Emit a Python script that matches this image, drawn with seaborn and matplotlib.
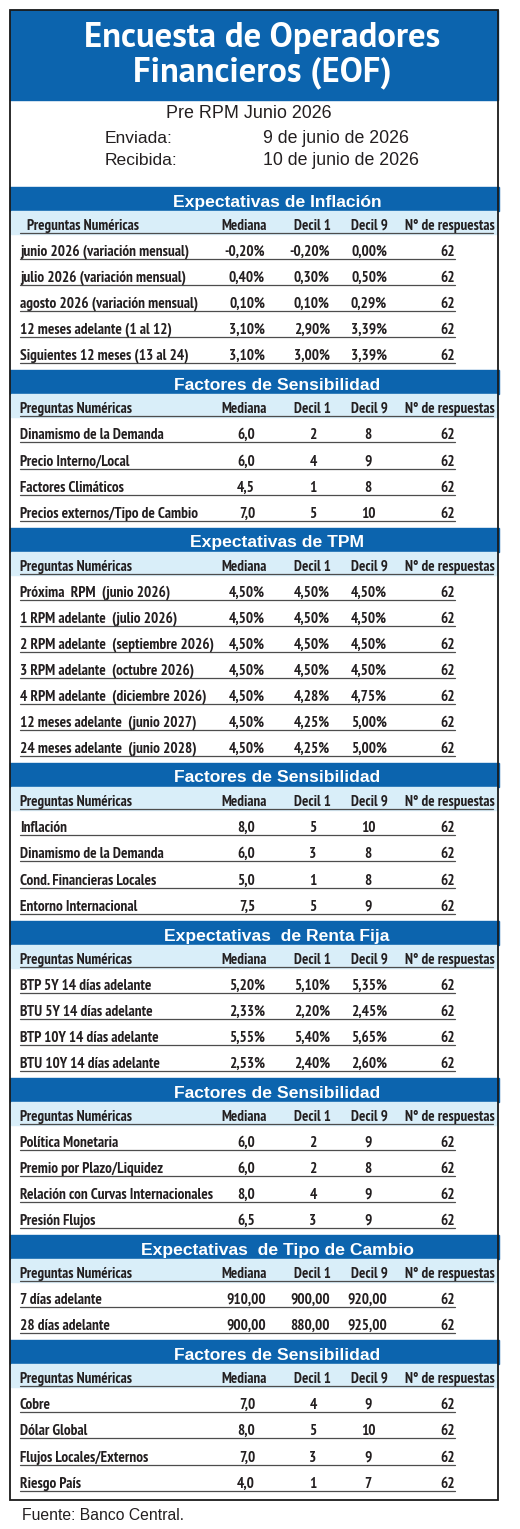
import os
import matplotlib
matplotlib.use("Agg")
import matplotlib.pyplot as plt
from matplotlib import font_manager as fm
from matplotlib.patches import Rectangle
import seaborn as sns

# ---- data ----
titulo = ["Encuesta de Operadores", "Financieros (EOF)"]
subtitulo = "Pre RPM Junio 2026"
enviada = "9 de junio de 2026"
recibida = "10 de junio de 2026"
fuente = "Fuente: Banco Central."
columnas = ["Preguntas Numéricas", "Mediana", "Decil 1", "Decil 9", "N° de respuestas"]

inflacion_labels = ["junio 2026 (variación mensual)", "julio 2026 (variación mensual)",
                    "agosto 2026 (variación mensual)", "12 meses adelante (1 al 12)",
                    "Siguientes 12 meses (13 al 24)"]
inflacion_mediana = [-0.20, 0.40, 0.10, 3.10, 3.10]
inflacion_decil1 = [-0.20, 0.30, 0.10, 2.90, 3.00]
inflacion_decil9 = [0.00, 0.50, 0.29, 3.39, 3.39]
inflacion_n = [62, 62, 62, 62, 62]

sens_inf_labels = ["Dinamismo de la Demanda", "Precio Interno/Local", "Factores Climáticos",
                   "Precios externos/Tipo de Cambio"]
sens_inf_mediana = [6.0, 6.0, 4.5, 7.0]
sens_inf_decil1 = [2, 4, 1, 5]
sens_inf_decil9 = [8, 9, 8, 10]
sens_inf_n = [62, 62, 62, 62]

tpm_labels = ["Próxima  RPM  (junio 2026)", "1 RPM adelante  (julio 2026)",
              "2 RPM adelante  (septiembre 2026)", "3 RPM adelante  (octubre 2026)",
              "4 RPM adelante  (diciembre 2026)", "12 meses adelante  (junio 2027)",
              "24 meses adelante  (junio 2028)"]
tpm_mediana = [4.50, 4.50, 4.50, 4.50, 4.50, 4.50, 4.50]
tpm_decil1 = [4.50, 4.50, 4.50, 4.50, 4.28, 4.25, 4.25]
tpm_decil9 = [4.50, 4.50, 4.50, 4.50, 4.75, 5.00, 5.00]
tpm_n = [62, 62, 62, 62, 62, 62, 62]

sens_tpm_labels = ["Inflación", "Dinamismo de la Demanda", "Cond. Financieras Locales",
                   "Entorno Internacional"]
sens_tpm_mediana = [8.0, 6.0, 5.0, 7.5]
sens_tpm_decil1 = [5, 3, 1, 5]
sens_tpm_decil9 = [10, 8, 8, 9]
sens_tpm_n = [62, 62, 62, 62]

rf_labels = ["BTP 5Y 14 días adelante", "BTU 5Y 14 días adelante",
             "BTP 10Y 14 días adelante", "BTU 10Y 14 días adelante"]
rf_mediana = [5.20, 2.33, 5.55, 2.53]
rf_decil1 = [5.10, 2.20, 5.40, 2.40]
rf_decil9 = [5.35, 2.45, 5.65, 2.60]
rf_n = [62, 62, 62, 62]

sens_rf_labels = ["Política Monetaria", "Premio por Plazo/Liquidez",
                  "Relación con Curvas Internacionales", "Presión Flujos"]
sens_rf_mediana = [6.0, 6.0, 8.0, 6.5]
sens_rf_decil1 = [2, 2, 4, 3]
sens_rf_decil9 = [9, 8, 9, 9]
sens_rf_n = [62, 62, 62, 62]

tc_labels = ["7 días adelante", "28 días adelante"]
tc_mediana = [910.00, 900.00]
tc_decil1 = [900.00, 880.00]
tc_decil9 = [920.00, 925.00]
tc_n = [62, 62]

sens_tc_labels = ["Cobre", "Dólar Global", "Flujos Locales/Externos", "Riesgo País"]
sens_tc_mediana = [7.0, 8.0, 7.0, 4.0]
sens_tc_decil1 = [4, 5, 3, 1]
sens_tc_decil9 = [9, 10, 9, 7]
sens_tc_n = [62, 62, 62, 62]

secciones = [
    ("Expectativas de Inflación", "pct", inflacion_labels, inflacion_mediana, inflacion_decil1, inflacion_decil9, inflacion_n),
    ("Factores de Sensibilidad", "fac", sens_inf_labels, sens_inf_mediana, sens_inf_decil1, sens_inf_decil9, sens_inf_n),
    ("Expectativas de TPM", "pct", tpm_labels, tpm_mediana, tpm_decil1, tpm_decil9, tpm_n),
    ("Factores de Sensibilidad", "fac", sens_tpm_labels, sens_tpm_mediana, sens_tpm_decil1, sens_tpm_decil9, sens_tpm_n),
    ("Expectativas  de Renta Fija", "pct", rf_labels, rf_mediana, rf_decil1, rf_decil9, rf_n),
    ("Factores de Sensibilidad", "fac", sens_rf_labels, sens_rf_mediana, sens_rf_decil1, sens_rf_decil9, sens_rf_n),
    ("Expectativas  de Tipo de Cambio", "tc", tc_labels, tc_mediana, tc_decil1, tc_decil9, tc_n),
    ("Factores de Sensibilidad", "fac", sens_tc_labels, sens_tc_mediana, sens_tc_decil1, sens_tc_decil9, sens_tc_n),
]

# ---- style ----
sns.set_theme(style="white")
plt.rcParams['font.family'] = ['Liberation Sans', 'DejaVu Sans']
BLUE = "#0c64ae"
LIGHT = "#d9eef9"
INK = "#231f20"
LINE = "#4d4d4d"

# look for a condensed bold face close to the original (Myriad Condensed)
system_fonts = {os.path.basename(f).rsplit('.', 1)[0].lower(): f for f in fm.findSystemFonts()}


def find_font(names):
    for name in names:
        if name.lower() in system_fonts:
            return system_fonts[name.lower()]
    return None


narrow = find_font(["PT_Sans-Narrow-Web-Bold", "PTSansNarrow-Bold", "PTSans-NarrowBold",
                    "FiraSansCondensed-SemiBold", "FiraSansCondensed-Bold",
                    "AsapCondensed-SemiBold", "AsapCondensed-Bold", "DejaVuSansCondensed-Bold"])
title_font = find_font(["PT_Sans-Web-Bold", "PTSans-Bold", "FiraSans-SemiBold", "Lato-Bold"])


def cond(size):
    if narrow:
        return fm.FontProperties(fname=narrow, size=size)
    return fm.FontProperties(family="DejaVu Sans", weight="bold", stretch="condensed", size=size)


def tfont(size):
    if title_font:
        return fm.FontProperties(fname=title_font, size=size)
    return fm.FontProperties(family="Lato", weight="bold", size=size)


def pct(v):
    return f"{v:.2f}%".replace(".", ",")


def dec1(v):
    return f"{v:.1f}".replace(".", ",")


def dec2(v):
    return f"{v:.2f}".replace(".", ",")


fig = plt.figure(figsize=(5.2, 15.29), dpi=100)
ax = fig.add_axes([0, 0, 1, 1])
ax.set_xlim(0, 520)
ax.set_ylim(1529, 0)
ax.axis("off")
renderer = fig.canvas.get_renderer()


def fit(t, width_px):
    bb = t.get_window_extent(renderer=renderer)
    t.set_fontsize(t.get_fontsize() * width_px / bb.width)
    return t


def fitted_size(text, width_px, base=11.0, cap=11.5):
    t = ax.text(0, 0, text, fontproperties=cond(base))
    w = t.get_window_extent(renderer=renderer).width
    t.remove()
    return min(cap, base * width_px / w)


body_size = fitted_size("Relación con Curvas Internacionales", 192)
head_size = fitted_size("Preguntas Numéricas", 112)

# title band
ax.add_patch(Rectangle((10, 10), 488, 90, color=BLUE, zorder=1))
for txt, yb, w in zip(titulo, [46.5, 81.5], [355, 258]):
    t = ax.text(262, yb, txt, ha="center", va="baseline", color="white",
                fontproperties=tfont(19))
    fit(t, w)

fit(ax.text(249, 118, subtitulo, ha="center", va="baseline", color=INK, fontsize=12), 165)
fit(ax.text(105, 143, "Enviada:", ha="left", va="baseline", color=INK, fontsize=12), 68)
fit(ax.text(263, 143, enviada, ha="left", va="baseline", color=INK, fontsize=12), 147)
fit(ax.text(105, 165, "Recibida:", ha="left", va="baseline", color=INK, fontsize=12), 73)
fit(ax.text(263, 165, recibida, ha="left", va="baseline", color=INK, fontsize=12), 157)

# column anchors: (x, ha) per kind for mediana, decil1, decil9, n
anchors = {
    "pct": [(265, "right"), (330, "right"), (387, "right"), (455, "right")],
    "tc": [(266, "right"), (330, "right"), (387, "right"), (455, "right")],
    "fac": [(255, "right"), (313, "center"), (368, "center"), (455, "right")],
}
head_x = [244, 312, 369, 450]

ROW = 26.1
y0 = 187.0
for k, (title, kind, labels, med, d1, d9, n) in enumerate(secciones):
    top = round(y0)
    ax.add_patch(Rectangle((10, top), 489, 23.5, color=BLUE, zorder=1))
    ax.text(277, top + 19.5, title, ha="center", va="baseline", color="white",
            weight="bold", fontsize=12.6)
    ax.add_patch(Rectangle((11, top + 23.5), 486, 23.5, color=LIGHT, zorder=1))
    ax.text(27 if k == 0 else 20, top + 43, columnas[0], ha="left", va="baseline", color=INK,
            fontproperties=cond(head_size))
    for hx, col in zip(head_x, columnas[1:]):
        ax.text(hx, top + 43, col, ha="center", va="baseline", color=INK,
                fontproperties=cond(head_size))
    ax.plot([20, 493], [top + 45.5, top + 45.5], color=LINE, lw=0.9, zorder=2)

    if kind == "fac":
        fmt = [dec1, str, str, str]
    elif kind == "tc":
        fmt = [dec2, dec2, dec2, str]
    else:
        fmt = [pct, pct, pct, str]
    for i, lab in enumerate(labels):
        yb = round(y0 + 63.5 + i * ROW + 5.5)
        ax.text(20, yb, lab, ha="left", va="baseline", color=INK,
                fontproperties=cond(body_size))
        vals = [med[i], d1[i], d9[i], n[i]]
        for (x, ha), f, v in zip(anchors[kind], fmt, vals):
            ax.text(x, yb, f(v), ha=ha, va="baseline", color=INK,
                    fontproperties=cond(body_size))
        ax.plot([20, 455], [yb + 2.5, yb + 2.5], color=LINE, lw=0.9, zorder=2)
    last = y0
    y0 = y0 + 79 + ROW * (len(labels) - 1)

box_bottom = last + 63.5 + ROW * (len(secciones[-1][2]) - 1) + 18
ax.add_patch(Rectangle((10, 10), 488, box_bottom - 10, fill=False, ec="#1a1a1a",
                       lw=1.3, zorder=3))

fit(ax.text(22, 1520, fuente, ha="left", va="baseline", color=INK, fontsize=11), 161)

fig.savefig("out.png", dpi=100, facecolor="white")
